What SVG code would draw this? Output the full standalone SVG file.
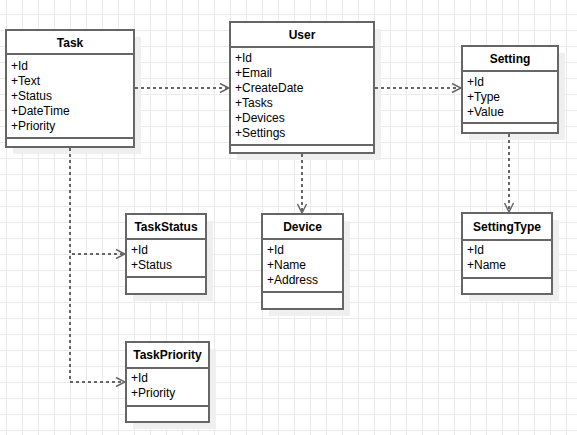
<svg xmlns="http://www.w3.org/2000/svg" width="577" height="435" viewBox="0 0 577 435">
  <defs>
    <pattern id="grid" patternUnits="userSpaceOnUse" x="6" y="14" width="16" height="16">
      <path d="M0,0.5 H16 M0.5,0 V16" fill="none" stroke="#ebebeb" stroke-width="1"/>
    </pattern>
    <marker id="open" markerUnits="userSpaceOnUse" viewBox="-11 -6 12 12" refX="0" refY="0" markerWidth="12" markerHeight="12" orient="auto">
      <path d="M-9,-4.5 L0,0 L-9,4.5" fill="none" stroke="#666666" stroke-width="1.5"/>
    </marker>
    <style>
      .shadow { fill: #efefef; stroke: none; }
      .box { fill: #ffffff; stroke: #666666; stroke-width: 2; }
      .sep { stroke: #666666; stroke-width: 2; fill: none; }
      .title { font-family: "Liberation Sans", Arial, sans-serif; font-size: 12px; font-weight: bold; fill: #000000; text-anchor: middle; }
      .field { font-family: "Liberation Sans", Arial, sans-serif; font-size: 12px; fill: #000000; }
      .conn { fill: none; stroke: #666666; stroke-width: 2; stroke-dasharray: 3 3; }
    </style>
  </defs>
  <rect width="577" height="435" fill="#ffffff"/>
  <rect width="577" height="435" fill="url(#grid)"/>

  <g id="task">
    <rect class="shadow" x="13" y="37" width="128" height="117"/>
    <rect class="box" x="6" y="30" width="128" height="117"/>
    <line class="sep" x1="6" y1="54" x2="134" y2="54"/>
    <line class="sep" x1="6" y1="138" x2="134" y2="138"/>
    <text class="title" x="70" y="47">Task</text>
    <text class="field" x="11" y="69.5">+Id</text>
    <text class="field" x="11" y="84.5">+Text</text>
    <text class="field" x="11" y="99.5">+Status</text>
    <text class="field" x="11" y="114.5">+DateTime</text>
    <text class="field" x="11" y="129.5">+Priority</text>
  </g>

  <g id="user">
    <rect class="shadow" x="237" y="29" width="144" height="131"/>
    <rect class="box" x="230" y="22" width="144" height="131"/>
    <line class="sep" x1="230" y1="47" x2="374" y2="47"/>
    <line class="sep" x1="230" y1="145" x2="374" y2="145"/>
    <text class="title" x="302" y="38.5">User</text>
    <text class="field" x="235" y="62">+Id</text>
    <text class="field" x="235" y="77">+Email</text>
    <text class="field" x="235" y="92">+CreateDate</text>
    <text class="field" x="235" y="107">+Tasks</text>
    <text class="field" x="235" y="122">+Devices</text>
    <text class="field" x="235" y="137">+Settings</text>
  </g>

  <g id="setting">
    <rect class="shadow" x="469" y="53" width="96" height="87"/>
    <rect class="box" x="462" y="46" width="96" height="87"/>
    <line class="sep" x1="462" y1="71" x2="558" y2="71"/>
    <line class="sep" x1="462" y1="123" x2="558" y2="123"/>
    <text class="title" x="510" y="63">Setting</text>
    <text class="field" x="467" y="86">+Id</text>
    <text class="field" x="467" y="101">+Type</text>
    <text class="field" x="467" y="116">+Value</text>
  </g>

  <g id="settingtype">
    <rect class="shadow" x="469" y="220" width="90" height="81"/>
    <rect class="box" x="462" y="213" width="90" height="81"/>
    <line class="sep" x1="462" y1="240" x2="552" y2="240"/>
    <line class="sep" x1="462" y1="278" x2="552" y2="278"/>
    <text class="title" x="507" y="231">SettingType</text>
    <text class="field" x="467" y="253.5">+Id</text>
    <text class="field" x="467" y="268.5">+Name</text>
  </g>

  <g id="device">
    <rect class="shadow" x="269" y="221" width="81" height="95"/>
    <rect class="box" x="262" y="214" width="81" height="95"/>
    <line class="sep" x1="262" y1="239" x2="343" y2="239"/>
    <line class="sep" x1="262" y1="292" x2="343" y2="292"/>
    <text class="title" x="302.5" y="230.5">Device</text>
    <text class="field" x="267" y="253.5">+Id</text>
    <text class="field" x="267" y="268.5">+Name</text>
    <text class="field" x="267" y="283.5">+Address</text>
  </g>

  <g id="taskstatus">
    <rect class="shadow" x="133" y="221" width="80" height="80"/>
    <rect class="box" x="126" y="214" width="80" height="80"/>
    <line class="sep" x1="126" y1="239" x2="206" y2="239"/>
    <line class="sep" x1="126" y1="277" x2="206" y2="277"/>
    <text class="title" x="166" y="231">TaskStatus</text>
    <text class="field" x="131" y="253.5">+Id</text>
    <text class="field" x="131" y="269">+Status</text>
  </g>

  <g id="taskpriority">
    <rect class="shadow" x="133" y="349" width="83" height="80"/>
    <rect class="box" x="126" y="342" width="83" height="80"/>
    <line class="sep" x1="126" y1="368" x2="209" y2="368"/>
    <line class="sep" x1="126" y1="406" x2="209" y2="406"/>
    <text class="title" x="167.5" y="358.5">TaskPriority</text>
    <text class="field" x="131" y="381.5">+Id</text>
    <text class="field" x="131" y="397">+Priority</text>
  </g>

  <g id="connectors">
    <path class="conn" d="M135,88 H229" marker-end="url(#open)"/>
    <path class="conn" d="M375,88 H461" marker-end="url(#open)"/>
    <path class="conn" d="M302,154 V213" marker-end="url(#open)"/>
    <path class="conn" d="M509,134 V212" marker-end="url(#open)"/>
    <path class="conn" d="M70,148 V254 H125" marker-end="url(#open)"/>
    <path class="conn" d="M70,148 V382 H125" marker-end="url(#open)"/>
  </g>
</svg>
